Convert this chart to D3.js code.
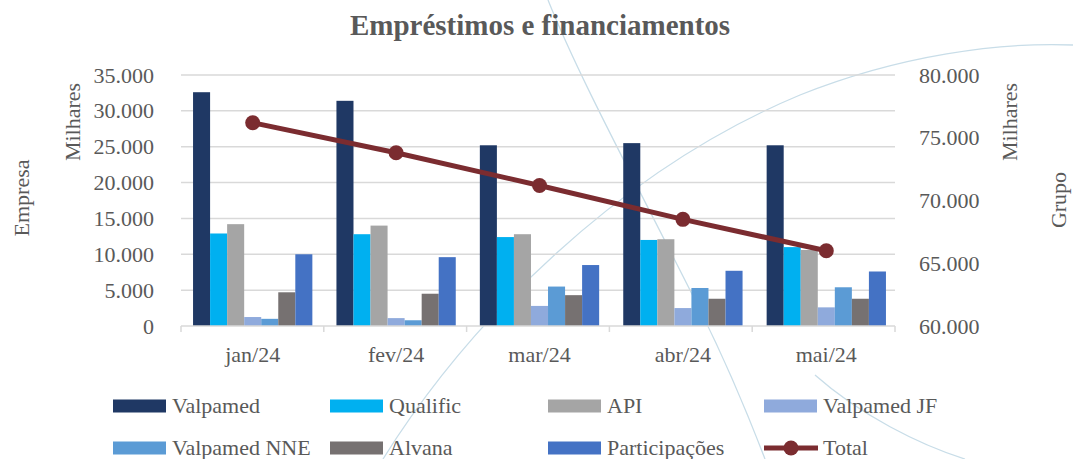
<!DOCTYPE html>
<html><head><meta charset="utf-8">
<script src="https://cdn.jsdelivr.net/npm/d3@7"></script>
<style>body{margin:0;background:#fff}svg{display:block}</style>
</head><body>
<svg id="c" width="1073" height="459" font-family="'Liberation Serif', serif"></svg>
<script>
const categories = ["jan/24","fev/24","mar/24","abr/24","mai/24"];
const valpamed   = [32600, 31400, 25200, 25500, 25200];
const qualific   = [12900, 12800, 12400, 12000, 11000];
const api        = [14200, 14000, 12800, 12100, 10600];
const valpamedJF = [1250, 1100, 2800, 2500, 2600];
const valpamedNNE= [1000, 800, 5500, 5300, 5400];
const alvana     = [4700, 4500, 4300, 3800, 3800];
const participacoes = [10000, 9600, 8500, 7700, 7600];
const total      = [76200, 73800, 71200, 68500, 66000];
const leftTicks  = [0,5000,10000,15000,20000,25000,30000,35000];
const rightTicks = [60000,65000,70000,75000,80000];

const seriesNames = ["Valpamed","Qualific","API","Valpamed JF","Valpamed NNE","Alvana","Participações"];
const seriesData = [valpamed,qualific,api,valpamedJF,valpamedNNE,alvana,participacoes];
const colors = ["#1F3864","#00B0F0","#A5A5A5","#8FAADC","#5B9BD5","#767171","#4472C4"];
const lineColor = "#7B2C30";
const txt = "#595959";
const font = "'Liberation Serif', serif";

const svg = d3.select("#c");
const L = 181, R = 898, T = 75, B = 326;

// decorative background curves
const deco = svg.append("g").attr("fill","none").attr("stroke","#c8dde8").attr("stroke-width",1.3);
deco.append("path").attr("d","M383,459 C470,320 620,170 800,95 C900,55 1000,42 1073,45");
deco.append("path").attr("d","M548,0 C580,80 640,190 700,310 C730,370 750,420 765,459");
deco.append("path").attr("d","M815,375 C860,415 920,445 965,459");

const x0 = d3.scaleBand().domain(categories).range([L,R]).paddingInner(0.168).paddingOuter(0.084);
const x1 = d3.scaleBand().domain(seriesNames).range([0,x0.bandwidth()]);
const y = d3.scaleLinear().domain([0,35000]).range([B,T]);
const y2 = d3.scaleLinear().domain([60000,80000]).range([B,T]);
const fmt = d3.format(",d");
const ptFmt = v => fmt(v).replace(/,/g,".");

// gridlines
svg.append("g").selectAll("line").data(leftTicks.slice(1)).join("line")
  .attr("x1",L).attr("x2",R-3).attr("y1",d=>y(d)).attr("y2",d=>y(d))
  .attr("stroke","#d9d9d9").attr("stroke-width",1.5);

// left axis
const ya = svg.append("g").attr("transform",`translate(${L},0)`)
  .call(d3.axisLeft(y).tickValues(leftTicks).tickFormat(ptFmt).tickSize(0).tickPadding(27));
ya.attr("font-family",null).attr("font-size",null);
ya.select(".domain").remove();
ya.selectAll("text").attr("fill",txt).style("font-family",font).style("font-size","22px");

// right axis
const yb = svg.append("g").attr("transform",`translate(${R},0)`)
  .call(d3.axisRight(y2).tickValues(rightTicks).tickFormat(ptFmt).tickSize(0).tickPadding(21));
yb.attr("font-family",null).attr("font-size",null);
yb.select(".domain").remove();
yb.selectAll("text").attr("fill",txt).style("font-family",font).style("font-size","22px");

// bars
const groups = svg.append("g").selectAll("g").data(categories).join("g")
  .attr("transform",c=>`translate(${x0(c)},0)`);
groups.selectAll("rect").data((c,i)=>seriesNames.map((s,j)=>({s,j,v:seriesData[j][i]}))).join("rect")
  .attr("x",d=>x1(d.s)).attr("width",x1.bandwidth())
  .attr("y",d=>y(d.v)).attr("height",d=>B-y(d.v))
  .attr("fill",d=>colors[d.j]);

// x axis baseline + ticks
svg.append("line").attr("x1",L).attr("x2",R-3).attr("y1",B).attr("y2",B).attr("stroke","#d9d9d9").attr("stroke-width",1.5);
const bounds = d3.range(categories.length+1).map(i=>L+i*(R-3-L)/categories.length);
svg.append("g").selectAll("line").data(bounds).join("line")
  .attr("x1",d=>d).attr("x2",d=>d).attr("y1",B).attr("y2",B+6).attr("stroke","#d9d9d9").attr("stroke-width",1.5);
svg.append("g").selectAll("text").data(categories).join("text")
  .attr("x",c=>x0(c)+x0.bandwidth()/2).attr("y",362).attr("text-anchor","middle")
  .attr("fill",txt).style("font-family",font).style("font-size","22px").text(c=>c);

// total line
const xc = c => x0(c)+x0.bandwidth()/2;
const line = d3.line().x((d,i)=>xc(categories[i])).y(d=>y2(d));
svg.append("path").datum(total).attr("d",line).attr("fill","none").attr("stroke",lineColor).attr("stroke-width",5);
svg.append("g").selectAll("circle").data(total).join("circle")
  .attr("cx",(d,i)=>xc(categories[i])).attr("cy",d=>y2(d)).attr("r",7.5).attr("fill",lineColor);

// title
svg.append("text").attr("x",540).attr("y",35).attr("text-anchor","middle").attr("fill",txt)
  .style("font-family",font).style("font-size","29px").style("font-weight","bold").text("Empréstimos e financiamentos");

// axis titles
const rot = (x,yy,t)=>svg.append("text").attr("transform",`translate(${x},${yy}) rotate(-90)`)
  .attr("text-anchor","middle").attr("fill",txt).style("font-family",font).style("font-size","22px").text(t);
rot(29,198,"Empresa");
rot(80,122,"Milhares");
rot(1017,122,"Milhares");
rot(1066,200,"Grupo");

// legend
const legItems = seriesNames.map((s,i)=>({name:s,color:colors[i],type:"bar"})).concat([{name:"Total",color:lineColor,type:"line"}]);
const colX = [113,330,548,764];
const rowY = [406,448];
const lg = svg.append("g").selectAll("g").data(legItems).join("g")
  .attr("transform",(d,i)=>`translate(${colX[i%4]},${rowY[Math.floor(i/4)]})`);
lg.each(function(d){
  const g = d3.select(this);
  if(d.type==="bar"){
    g.append("rect").attr("x",0).attr("y",-6.5).attr("width",53).attr("height",13).attr("fill",d.color);
  } else {
    g.append("line").attr("x1",0).attr("x2",54).attr("y1",0).attr("y2",0).attr("stroke",d.color).attr("stroke-width",5);
    g.append("circle").attr("cx",27).attr("cy",0).attr("r",7.5).attr("fill",d.color);
  }
  g.append("text").attr("x",59).attr("y",7).attr("fill",txt).style("font-family",font).style("font-size","22px").text(d.name);
});
</script>
</body></html>
